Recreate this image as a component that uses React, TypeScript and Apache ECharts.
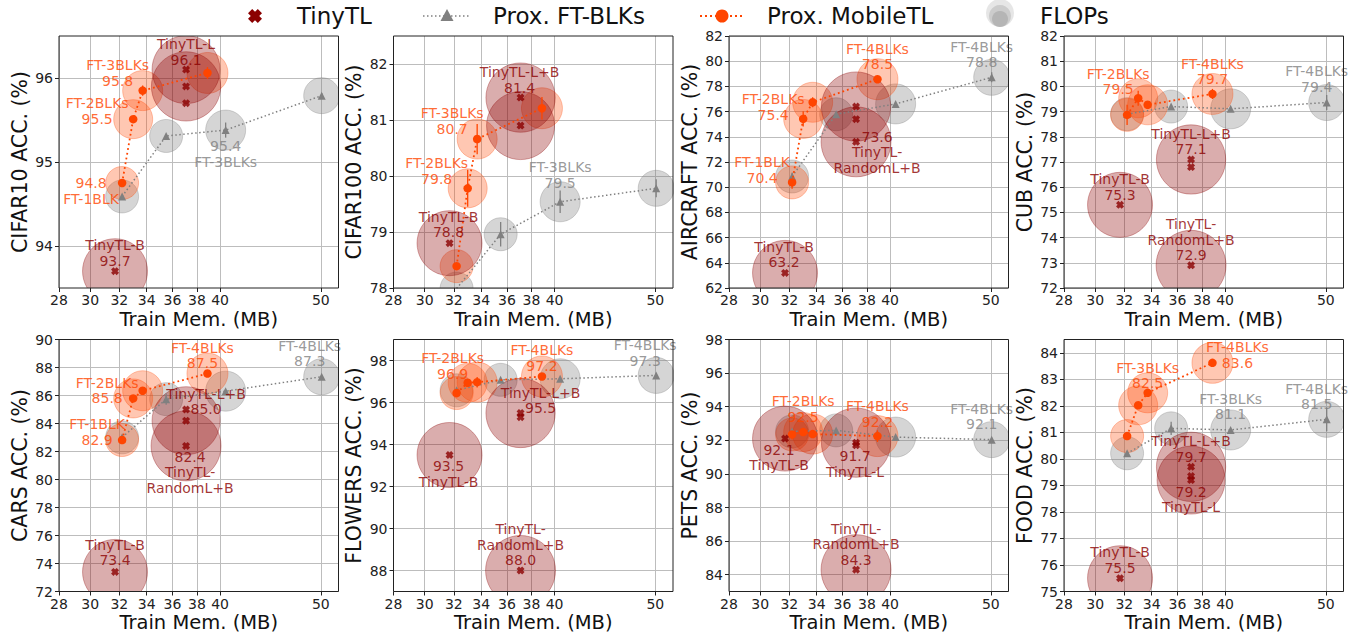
import React, { useEffect, useRef } from 'react';
import * as echarts from 'echarts';

// ---------- data ----------
const datasets = ['CIFAR10', 'CIFAR100', 'AIRCRAFT', 'CUB', 'CARS', 'FLOWERS', 'PETS', 'FOOD'];
const xTicks = [28, 30, 32, 34, 36, 38, 40, 50];
const yRanges = [[93.5, 96.5], [78, 82.5], [62, 82], [72, 82], [72, 90], [87, 99], [83, 98], [75, 84.5]];
const yTicks = [
  [94, 95, 96],
  [78, 79, 80, 81, 82],
  [62, 64, 66, 68, 70, 72, 74, 76, 78, 80, 82],
  [72, 73, 74, 75, 76, 77, 78, 79, 80, 81, 82],
  [72, 74, 76, 78, 80, 82, 84, 86, 88, 90],
  [88, 90, 92, 94, 96, 98],
  [84, 86, 88, 90, 92, 94, 96, 98],
  [75, 76, 77, 78, 79, 80, 81, 82, 83, 84],
];

// TinyTL variants: B, L, L+B, RandomL+B
const tinyMem = [31.7, 37.1, 37.1, 37.1];
const tinyFlops = [264, 289, 300, 306];
const tinyAcc = [
  [93.7, 96.1, 95.9, 95.7],
  [78.8, 80.9, 81.4, null],
  [63.2, 75.4, 76.4, 73.6],
  [75.3, 76.8, 77.1, 72.9],
  [73.4, 84.2, 85.0, 82.4],
  [93.5, 95.3, 95.5, 88.0],
  [92.1, 91.7, 91.86, 84.3],
  [75.5, 79.2, 79.7, 79.35],
];
// which TinyTL points carry a visible FLOPs bubble
const tinyHasBubble = [
  [1, 1, 1, 0],
  [1, 1, 1, 0],
  [1, 0, 1, 1],
  [1, 0, 1, 1],
  [1, 1, 0, 1],
  [1, 0, 1, 1],
  [1, 0, 1, 1],
  [1, 1, 1, 0],
];

// Prox. MobileTL: FT-1BLK .. FT-4BLKs
const mobMem = [32.2, 33.0, 33.7, 38.9];
const mobFlops = [68, 95, 100, 105];
const mobAcc = [
  [94.75, 95.51, 95.85, 96.06],
  [78.39, 79.78, 80.66, 81.21],
  [70.38, 75.42, 76.74, 78.57],
  [78.87, 79.53, 79.27, 79.70],
  [82.82, 85.79, 86.34, 87.57],
  [96.45, 96.94, 96.97, 97.24],
  [92.35, 92.49, 92.37, 92.25],
  [80.86, 82.02, 82.49, 83.62],
];
const mobErr = [
  [0, 0.03, 0.06, 0.07],
  [0, 0.33, 0.27, 0.2],
  [0.5, 0.6, 0.4, 0.3],
  [0.4, 0.3, 0, 0.2],
  [0, 0, 0, 0],
  [0.2, 0, 0.25, 0],
  [0.3, 0, 0, 0.35],
  [0, 0, 0, 0],
];

// Prox. FT-BLKs: FT-1BLK .. FT-4BLKs
const ftMem = [32.2, 35.5, 40.5, 50.1];
const ftFlops = [68, 68, 100, 81];
const ftAcc = [
  [94.59, 95.31, 95.38, 95.79],
  [77.99, 78.96, 79.54, 79.78],
  [70.85, 75.79, 76.61, 78.72],
  [78.90, 79.20, 79.11, 79.36],
  [83.01, 85.74, 86.31, 87.34],
  [96.58, 97.08, 97.13, 97.29],
  [92.53, 92.59, 92.19, 92.04],
  [80.21, 81.15, 81.09, 81.49],
];
const ftErr = [
  [0, 0, 0.09, 0.03],
  [0, 0.22, 0.2, 0.16],
  [0.3, 0, 0, 0.4],
  [0, 0, 0, 0.3],
  [0, 0.4, 0, 0],
  [0, 0, 0, 0],
  [0, 0, 0, 0],
  [0, 0.25, 0, 0.45],
];

// annotations: group (t = TinyTL, m = MobileTL, f = FT-BLKs), point index, text, offset, vertical anchor
type Ann = { g: 't' | 'm' | 'f'; i: number; text: string; dx: number; dy: number; v: 'top' | 'bottom' };
const annotations: Ann[][] = [
  [
    { g: 't', i: 1, text: 'TinyTL-L\n96.1', dx: 0, dy: -2, v: 'bottom' },
    { g: 't', i: 0, text: 'TinyTL-B\n93.7', dx: 0, dy: -2.5, v: 'bottom' },
    { g: 'm', i: 0, text: '94.8\nFT-1BLK', dx: -31, dy: -7.5, v: 'top' },
    { g: 'm', i: 1, text: 'FT-2BLKs\n95.5', dx: -36, dy: 7.5, v: 'bottom' },
    { g: 'm', i: 2, text: 'FT-3BLKs\n95.8', dx: -25, dy: -2, v: 'bottom' },
    { g: 'f', i: 2, text: '95.4\nFT-3BLKs', dx: 0, dy: 8.5, v: 'top' },
  ],
  [
    { g: 't', i: 2, text: 'TinyTL-L+B\n81.4', dx: -1, dy: -2, v: 'bottom' },
    { g: 't', i: 0, text: 'TinyTL-B\n78.8', dx: -1, dy: -3, v: 'bottom' },
    { g: 'm', i: 1, text: 'FT-2BLKs\n79.8', dx: -31, dy: -2, v: 'bottom' },
    { g: 'm', i: 2, text: 'FT-3BLKs\n80.7', dx: -25, dy: -2.5, v: 'bottom' },
    { g: 'f', i: 2, text: 'FT-3BLKs\n79.5', dx: 0, dy: -11.5, v: 'bottom' },
  ],
  [
    { g: 't', i: 0, text: 'TinyTL-B\n63.2', dx: -1, dy: -3, v: 'bottom' },
    { g: 't', i: 3, text: '73.6\nTinyTL-\nRandomL+B', dx: 21, dy: -13, v: 'top' },
    { g: 'm', i: 0, text: 'FT-1BLK\n70.4', dx: -30, dy: 3, v: 'bottom' },
    { g: 'm', i: 1, text: 'FT-2BLKs\n75.4', dx: -30, dy: 3.5, v: 'bottom' },
    { g: 'm', i: 3, text: 'FT-4BLKs\n78.5', dx: 0, dy: -7, v: 'bottom' },
    { g: 'f', i: 3, text: 'FT-4BLKs\n78.8', dx: -10, dy: -7.5, v: 'bottom' },
  ],
  [
    { g: 't', i: 0, text: 'TinyTL-B\n75.3', dx: 0, dy: -2.5, v: 'bottom' },
    { g: 't', i: 2, text: 'TinyTL-L+B\n77.1', dx: 0, dy: -2.5, v: 'bottom' },
    { g: 't', i: 3, text: 'TinyTL-\nRandomL+B\n72.9', dx: 0, dy: -2.5, v: 'bottom' },
    { g: 'm', i: 1, text: 'FT-2BLKs\n79.5', dx: -20, dy: -1, v: 'bottom' },
    { g: 'm', i: 3, text: 'FT-4BLKs\n79.7', dx: 0, dy: -7, v: 'bottom' },
    { g: 'f', i: 3, text: 'FT-4BLKs\n79.4', dx: -10, dy: -8, v: 'bottom' },
  ],
  [
    { g: 't', i: 0, text: 'TinyTL-B\n73.4', dx: 0, dy: -4, v: 'bottom' },
    { g: 't', i: 2, text: 'TinyTL-L+B\n85.0', dx: 20, dy: 7.5, v: 'bottom' },
    { g: 't', i: 3, text: '82.4\nTinyTL-\nRandomL+B', dx: 4, dy: 3, v: 'top' },
    { g: 'm', i: 0, text: 'FT-1BLK\n82.9', dx: -25, dy: 7.5, v: 'bottom' },
    { g: 'm', i: 1, text: 'FT-2BLKs\n85.8', dx: -26, dy: 7.5, v: 'bottom' },
    { g: 'm', i: 3, text: 'FT-4BLKs\n87.5', dx: -5, dy: -2.5, v: 'bottom' },
    { g: 'f', i: 3, text: 'FT-4BLKs\n87.3', dx: -12, dy: -7.5, v: 'bottom' },
  ],
  [
    { g: 't', i: 0, text: '93.5\nTinyTL-B', dx: -1, dy: 3.5, v: 'top' },
    { g: 't', i: 2, text: 'TinyTL-L+B\n95.5', dx: 20, dy: 3, v: 'bottom' },
    { g: 't', i: 3, text: 'TinyTL-\nRandomL+B\n88.0', dx: 0, dy: -2.5, v: 'bottom' },
    { g: 'm', i: 1, text: 'FT-2BLKs\n96.9', dx: -15, dy: -1.5, v: 'bottom' },
    { g: 'm', i: 3, text: 'FT-4BLKs\n97.2', dx: 0, dy: -3, v: 'bottom' },
    { g: 'f', i: 3, text: 'FT-4BLKs\n97.3', dx: -11, dy: -7, v: 'bottom' },
  ],
  [
    { g: 't', i: 0, text: '92.1\nTinyTL-B', dx: -6, dy: 3.5, v: 'top' },
    { g: 't', i: 1, text: '91.7\nTinyTL-L', dx: -1, dy: 3, v: 'top' },
    { g: 't', i: 3, text: 'TinyTL-\nRandomL+B\n84.3', dx: 0, dy: -2, v: 'bottom' },
    { g: 'm', i: 1, text: 'FT-2BLKs\n92.5', dx: 0, dy: -7.5, v: 'bottom' },
    { g: 'm', i: 3, text: 'FT-4BLKs\n92.2', dx: 0, dy: -6.5, v: 'bottom' },
    { g: 'f', i: 3, text: 'FT-4BLKs\n92.1', dx: -10, dy: -7.5, v: 'bottom' },
  ],
  [
    { g: 't', i: 0, text: 'TinyTL-B\n75.5', dx: 0, dy: -2.5, v: 'bottom' },
    { g: 't', i: 2, text: 'TinyTL-L+B\n79.7', dx: 0, dy: -2.5, v: 'bottom' },
    { g: 't', i: 1, text: '79.2\nTinyTL-L', dx: 0, dy: 4, v: 'top' },
    { g: 'm', i: 2, text: 'FT-3BLKs\n82.5', dx: 0, dy: -2, v: 'bottom' },
    { g: 'm', i: 3, text: 'FT-4BLKs\n83.6', dx: 25, dy: 7.5, v: 'bottom' },
    { g: 'f', i: 2, text: 'FT-3BLKs\n81.1', dx: 0, dy: -8, v: 'bottom' },
    { g: 'f', i: 3, text: 'FT-4BLKs\n81.5', dx: -10, dy: -7.5, v: 'bottom' },
  ],
];

// ---------- styling ----------
const FONT = "'DejaVu Sans', sans-serif";
const COLOR = { t: '#8B0000', m: '#FF4500', f: '#808080' };
const BUBBLE = ['rgba(128,128,128,0.33)', 'rgba(255,69,0,0.3)', 'rgba(139,0,0,0.32)'];
const LEFTS = [59, 393.5, 729, 1064];
const TOPS = [36, 339.5];
const GW = 279.5;
const GH = 252;
// thick filled "X" marker (matplotlib 'X')
const X_SHAPE = [[0, 3], [3, 0], [5, 2], [7, 0], [10, 3], [8, 5], [10, 7], [7, 10], [5, 8], [3, 10], [0, 7], [2, 5]];
const X_PATH = 'path://M' + X_SHAPE.map((p) => p.join(',')).join('L') + 'Z';

const radius = (f: number) => 2 * Math.sqrt(f);

function buildOption() {
  const grid: any[] = [];
  const xAxis: any[] = [];
  const yAxis: any[] = [];
  const series: any[] = [];

  datasets.forEach((ds, i) => {
    grid.push({
      left: LEFTS[i % 4], top: TOPS[Math.floor(i / 4)], width: GW, height: GH,
      show: true, borderColor: '#222', borderWidth: 1, backgroundColor: 'transparent', z: 10,
    });
    xAxis.push({
      type: 'log', logBase: 10, gridIndex: i, min: 28, max: 52,
      name: 'Train Mem. (MB)', nameLocation: 'middle', nameGap: 21,
      nameTextStyle: { fontSize: 19.5, color: '#111', fontFamily: FONT },
      axisLine: { show: false },
      axisTick: { show: true, customValues: xTicks, length: 4, lineStyle: { color: '#222' } },
      axisLabel: {
        customValues: xTicks, fontSize: 14, color: '#222', margin: 5, fontFamily: FONT,
        formatter: (v: number) => String(Math.round(v)),
      },
      splitLine: { show: true, lineStyle: { color: '#bdbdbd', width: 1 } },
      minorTick: { show: false }, minorSplitLine: { show: false },
    });
    yAxis.push({
      type: 'value', gridIndex: i, min: yRanges[i][0], max: yRanges[i][1],
      name: `${ds} ACC. (%)`, nameLocation: 'middle', nameGap: 29,
      nameTextStyle: { fontSize: 20.5, color: '#111', fontFamily: FONT },
      axisLine: { show: false },
      axisTick: { show: true, customValues: yTicks[i], length: 4, lineStyle: { color: '#222' } },
      axisLabel: { customValues: yTicks[i], fontSize: 14, color: '#222', margin: 6, fontFamily: FONT },
      splitLine: { show: true, lineStyle: { color: '#bdbdbd', width: 1 } },
    });

    // bubbles (FLOPs)
    const bubbles: any[] = [];
    ftMem.forEach((x, k) => bubbles.push([x, ftAcc[i][k], radius(ftFlops[k]), 0]));
    mobMem.forEach((x, k) => bubbles.push([x, mobAcc[i][k], radius(mobFlops[k]), 1]));
    tinyMem.forEach((x, k) => {
      if (tinyAcc[i][k] != null && tinyHasBubble[i][k]) {
        bubbles.push([x, tinyAcc[i][k], radius(tinyFlops[k]), 2]);
      }
    });
    series.push({
      type: 'custom', name: 'FLOPs', xAxisIndex: i, yAxisIndex: i, clip: true, silent: true, z: 1,
      data: bubbles, encode: { x: 0, y: 1 },
      renderItem: (_p: any, api: any) => {
        const c = api.coord([api.value(0), api.value(1)]);
        const g = api.value(3);
        return {
          type: 'circle',
          shape: { cx: c[0], cy: c[1], r: api.value(2) },
          style: { fill: BUBBLE[g], stroke: BUBBLE[g], lineWidth: 1 },
        };
      },
    });

    // error bars
    const errs: any[] = [];
    ftMem.forEach((x, k) => { if (ftErr[i][k] > 0) errs.push([x, ftAcc[i][k], ftErr[i][k], 0]); });
    mobMem.forEach((x, k) => { if (mobErr[i][k] > 0) errs.push([x, mobAcc[i][k], mobErr[i][k], 1]); });
    series.push({
      type: 'custom', xAxisIndex: i, yAxisIndex: i, clip: true, silent: true, z: 3,
      data: errs, encode: { x: 0, y: 1 },
      renderItem: (_p: any, api: any) => {
        const x = api.value(0), y = api.value(1), e = api.value(2);
        const a = api.coord([x, y - e]);
        const b = api.coord([x, y + e]);
        return {
          type: 'line',
          shape: { x1: a[0], y1: a[1], x2: b[0], y2: b[1] },
          style: { stroke: api.value(3) === 0 ? COLOR.f : COLOR.m, lineWidth: 1.3 },
        };
      },
    });

    series.push({
      type: 'line', name: 'Prox. FT-BLKs', xAxisIndex: i, yAxisIndex: i, z: 4, silent: true,
      data: ftMem.map((x, k) => [x, ftAcc[i][k]]),
      symbol: 'triangle', symbolSize: 8, showAllSymbol: true,
      itemStyle: { color: COLOR.f },
      lineStyle: { color: COLOR.f, width: 1.5, type: [1.5, 2.5] },
    });
    series.push({
      type: 'line', name: 'Prox. MobileTL', xAxisIndex: i, yAxisIndex: i, z: 5, silent: true,
      data: mobMem.map((x, k) => [x, mobAcc[i][k]]),
      symbol: 'circle', symbolSize: 8.5, showAllSymbol: true,
      itemStyle: { color: COLOR.m },
      lineStyle: { color: COLOR.m, width: 1.8, type: [1.8, 3] },
    });
    series.push({
      type: 'scatter', name: 'TinyTL', xAxisIndex: i, yAxisIndex: i, z: 6, silent: true,
      data: tinyMem.map((x, k) => [x, tinyAcc[i][k]]).filter((d) => d[1] != null),
      symbol: X_PATH, symbolSize: 8,
      itemStyle: { color: COLOR.t },
    });

    // annotations
    series.push({
      type: 'scatter', xAxisIndex: i, yAxisIndex: i, z: 7, silent: true,
      symbolSize: 1, itemStyle: { color: 'rgba(0,0,0,0)' },
      label: {
        show: true, position: 'inside', align: 'center', fontSize: 14, lineHeight: 15.5,
        fontFamily: FONT,
      },
      data: annotations[i].map((a) => {
        const xs = a.g === 't' ? tinyMem : a.g === 'm' ? mobMem : ftMem;
        const ys = a.g === 't' ? tinyAcc[i] : a.g === 'm' ? mobAcc[i] : ftAcc[i];
        return {
          value: [xs[a.i], ys[a.i]],
          label: { formatter: a.text, offset: [a.dx, a.dy], verticalAlign: a.v, color: COLOR[a.g] },
        };
      }),
    });
  });

  // legend drawn with graphic elements
  const legendText = (x: number, text: string) => ({
    type: 'text', left: x, top: 4,
    style: { text, fontSize: 23, fontFamily: FONT, fill: '#111' },
  });
  const s = 1.4;
  const xPts = X_SHAPE.map((p) => [248 + p[0] * s, 9 + p[1] * s]);
  const graphic: any[] = [
    { type: 'polygon', shape: { points: xPts }, style: { fill: COLOR.t } },
    legendText(297, 'TinyTL'),
    { type: 'polyline', shape: { points: [[423, 16], [470, 16]] }, style: { stroke: COLOR.f, lineWidth: 1.5, lineDash: [1.5, 2.5] } },
    { type: 'polygon', shape: { points: [[447, 9], [453.5, 21], [440.5, 21]] }, style: { fill: COLOR.f } },
    legendText(493, 'Prox. FT-BLKs'),
    { type: 'polyline', shape: { points: [[700, 16], [745, 16]] }, style: { stroke: COLOR.m, lineWidth: 2, lineDash: [2, 3] } },
    { type: 'circle', shape: { cx: 722, cy: 16, r: 6.5 }, style: { fill: COLOR.m } },
    legendText(767, 'Prox. MobileTL'),
    { type: 'circle', shape: { cx: 1000, cy: 13, r: 14 }, style: { fill: 'rgba(128,128,128,0.2)' } },
    { type: 'circle', shape: { cx: 1000, cy: 16, r: 11 }, style: { fill: 'rgba(128,128,128,0.25)' } },
    { type: 'circle', shape: { cx: 1000, cy: 19, r: 8 }, style: { fill: 'rgba(128,128,128,0.3)' } },
    legendText(1040, 'FLOPs'),
  ];

  return {
    animation: false,
    backgroundColor: '#ffffff',
    textStyle: { fontFamily: FONT },
    grid, xAxis, yAxis, series, graphic,
  };
}

export default function App() {
  const ref = useRef<HTMLDivElement>(null);
  useEffect(() => {
    const chart = echarts.init(ref.current!, null, { renderer: 'svg' });
    chart.setOption(buildOption() as any);
    return () => chart.dispose();
  }, []);
  return (
    <div
      ref={ref}
      style={{ position: 'fixed', left: 0, top: 0, width: 1359, height: 641, background: '#fff' }}
    />
  );
}
